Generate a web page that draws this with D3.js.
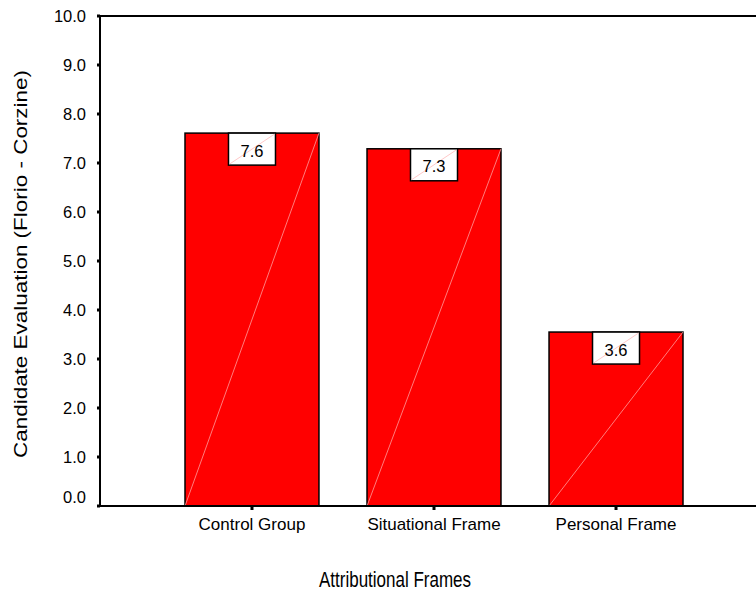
<!DOCTYPE html>
<html>
<head>
<meta charset="utf-8">
<script src="https://cdn.jsdelivr.net/npm/d3@7"></script>
<style>
  body { margin: 0; background: #fff; }
  text { font-family: Arial, "Liberation Sans", sans-serif; fill: #000; }
</style>
</head>
<body>
<div id="chart"></div>
<script>
// data
var categories = ["Control Group", "Situational Frame", "Personal Frame"];
var values = [7.61, 7.29, 3.55];
var valueLabels = ["7.6", "7.3", "3.6"];
var yTicks = [0, 1, 2, 3, 4, 5, 6, 7, 8, 9, 10];

var svgWidth = 756, svgHeight = 595;
var plot = { left: 100, top: 16, right: 768, bottom: 506 };

var svg = d3.select("#chart").append("svg")
    .attr("width", svgWidth)
    .attr("height", svgHeight);

var y = d3.scaleLinear().domain([0, 10]).range([plot.bottom, plot.top]);

var x = d3.scaleBand()
    .domain(categories)
    .range([plot.left, plot.right])
    .paddingInner(0.264)
    .paddingOuter(0.467);

// bars
var bars = svg.append("g").selectAll("g")
    .data(categories)
    .enter()
    .append("g");

bars.append("rect")
    .attr("x", d => x(d))
    .attr("y", (d, i) => y(values[i]))
    .attr("width", x.bandwidth())
    .attr("height", (d, i) => y(0) - y(values[i]))
    .attr("fill", "#ff0000")
    .attr("stroke", "#000")
    .attr("stroke-width", 1.5);

// faint diagonal inside each bar
bars.append("line")
    .attr("x1", d => x(d))
    .attr("y1", y(0))
    .attr("x2", d => x(d) + x.bandwidth())
    .attr("y2", (d, i) => y(values[i]))
    .attr("stroke", "#ff9c9c")
    .attr("stroke-width", 0.8);

// value boxes
var boxW = 47, boxH = 32;
bars.append("rect")
    .attr("x", d => x(d) + x.bandwidth() / 2 - boxW / 2)
    .attr("y", (d, i) => y(values[i]))
    .attr("width", boxW)
    .attr("height", boxH)
    .attr("fill", "#fff")
    .attr("stroke", "#000")
    .attr("stroke-width", 1.5);

bars.append("line")
    .attr("x1", d => x(d) + x.bandwidth() / 2 - boxW / 2 + 1)
    .attr("y1", (d, i) => y(values[i]) + boxH - 1)
    .attr("x2", d => x(d) + x.bandwidth() / 2 + boxW / 2 - 1)
    .attr("y2", (d, i) => y(values[i]) + 1)
    .attr("stroke", "#ffb0b0")
    .attr("stroke-width", 0.7);

bars.append("text")
    .attr("x", d => x(d) + x.bandwidth() / 2)
    .attr("y", (d, i) => y(values[i]) + 23.5)
    .attr("text-anchor", "middle")
    .style("font-size", "16.5px")
    .text((d, i) => valueLabels[i]);

// frame lines: top, left axis, bottom axis
svg.append("line")
    .attr("x1", plot.left).attr("x2", svgWidth)
    .attr("y1", plot.top).attr("y2", plot.top)
    .attr("stroke", "#000").attr("stroke-width", 2);
svg.append("line")
    .attr("x1", plot.left).attr("x2", svgWidth)
    .attr("y1", plot.bottom).attr("y2", plot.bottom)
    .attr("stroke", "#000").attr("stroke-width", 2);
svg.append("line")
    .attr("x1", plot.left).attr("x2", plot.left)
    .attr("y1", plot.top).attr("y2", plot.bottom)
    .attr("stroke", "#000").attr("stroke-width", 2);

// y ticks: small squares plus labels
var yAxis = svg.append("g");
yAxis.selectAll("rect")
    .data(yTicks)
    .enter()
    .append("rect")
    .attr("x", plot.left - 3)
    .attr("y", d => y(d) - 1.5)
    .attr("width", 3)
    .attr("height", 3)
    .attr("fill", "#000");
yAxis.selectAll("text")
    .data(yTicks)
    .enter()
    .append("text")
    .attr("x", 86)
    .attr("y", d => d === 0 ? y(d) - 3 : y(d) + 6)
    .attr("text-anchor", "end")
    .style("font-size", "16.5px")
    .text(d => d3.format(".1f")(d));

// x ticks
var xAxis = svg.append("g");
xAxis.selectAll("rect")
    .data(categories)
    .enter()
    .append("rect")
    .attr("x", d => x(d) + x.bandwidth() / 2 - 1.5)
    .attr("y", plot.bottom)
    .attr("width", 3)
    .attr("height", 4)
    .attr("fill", "#000");
xAxis.selectAll("text")
    .data(categories)
    .enter()
    .append("text")
    .attr("x", d => x(d) + x.bandwidth() / 2)
    .attr("y", 530)
    .attr("text-anchor", "middle")
    .style("font-size", "17px")
    .text(d => d);

// axis titles (stretched like in the original output)
svg.append("text")
    .attr("transform", "translate(395,587) scale(1,1.3)")
    .attr("text-anchor", "middle")
    .style("font-size", "17px")
    .text("Attributional Frames");

svg.append("text")
    .attr("transform", "translate(27,264) rotate(-90)")
    .attr("text-anchor", "middle")
    .attr("textLength", 388)
    .attr("lengthAdjust", "spacingAndGlyphs")
    .style("font-size", "18.5px")
    .text("Candidate Evaluation (Florio - Corzine)");
</script>
</body>
</html>
